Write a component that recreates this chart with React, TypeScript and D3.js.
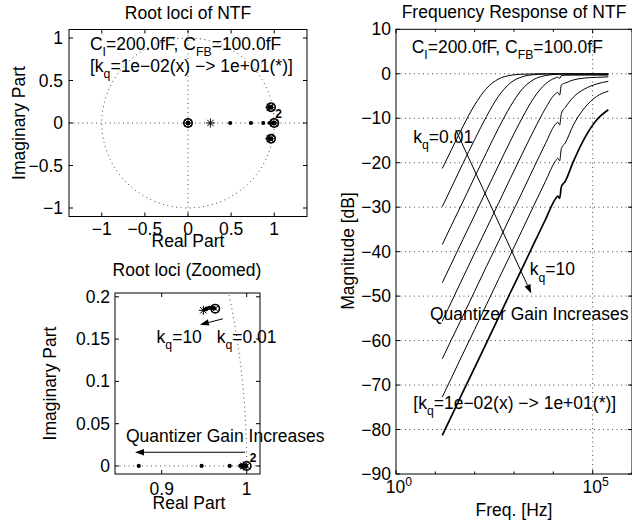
import React from 'react';
import * as d3 from 'd3';

const FONT = '"Liberation Sans", Arial, Helvetica, sans-serif';
const FS = 17.5;

// quantizer gain steps, 1e-2 -> 1e1 (8 values)
const kqValues = [0.01, 0.0268, 0.072, 0.193, 0.518, 1.39, 3.73, 10];

// NTF magnitude, frequency grid [Hz]
const freqHz = [15, 25, 50, 100, 200, 400, 800, 1600, 3200, 6300, 11000, 13000, 14500, 16000, 20000, 32000, 63000, 126000, 250000];

// magnitude [dB] per kq
const magKq1 = [-21.3, -17.3, -11.9, -7.0, -3.3, -1.2, -0.36, -0.1, -0.03, 0, 0, 0, -0.02, 0, 0, 0, 0, 0, 0];
const magKq2 = [-29.9, -25.8, -20.2, -14.8, -9.6, -5.1, -2.1, -0.69, -0.2, -0.06, -0.02, -0.02, -0.05, -0.02, -0.02, -0.03, -0.04, -0.05, -0.05];
const magKq3 = [-38.4, -34.3, -28.8, -23.2, -17.7, -12.3, -7.4, -3.5, -1.28, -0.41, -0.15, -0.11, -0.2, -0.08, -0.08, -0.1, -0.11, -0.12, -0.12];
const magKq4 = [-47.0, -42.9, -37.3, -31.8, -26.2, -20.7, -15.2, -10.0, -5.4, -2.3, -0.97, -0.75, -1.05, -0.4, -0.32, -0.3, -0.3, -0.3, -0.3];
const magKq5 = [-55.6, -51.5, -45.9, -40.3, -34.8, -29.2, -23.6, -18.1, -12.7, -7.8, -4.6, -4.2, -4.8, -2.5, -2.1, -1.4, -0.95, -0.8, -0.7];
const magKq6 = [-64.1, -60.0, -54.5, -48.9, -43.3, -37.8, -32.2, -26.7, -21.1, -15.7, -11.5, -10.9, -11.5, -8.9, -7.6, -5.3, -3.4, -2.3, -1.7];
const magKq7 = [-72.7, -68.6, -63.0, -57.5, -51.9, -46.3, -40.8, -35.2, -29.6, -24.2, -19.8, -19.0, -19.6, -16.8, -15.6, -11.6, -7.6, -5.1, -3.9];
const magKq8 = [-81.3, -77.2, -71.6, -66.1, -60.5, -54.9, -49.3, -43.8, -38.2, -32.8, -28.3, -27.5, -28.0, -25.4, -24.2, -19.8, -14.4, -10.4, -8.1];
const magCurves = [magKq1, magKq2, magKq3, magKq4, magKq5, magKq6, magKq7, magKq8];

// root locus (z-plane), one entry per kq
const movingPoleRe = [0.997, 0.9925, 0.98, 0.947, 0.873, 0.73, 0.49, 0.26];
const fixedPoleRe = [1.0, 0.9995, 0.999, 0.998, 0.997, 0.9965, 0.996, 0.996];
const cplxPoleRe = [0.963, 0.962, 0.961, 0.959, 0.956, 0.953, 0.951, 0.949];
const cplxPoleIm = [0.186, 0.1862, 0.1866, 0.187, 0.187, 0.186, 0.185, 0.184];
const zeroRe = [0, 1, 0.963, 0.963];
const zeroIm = [0, 0, 0.186, -0.186];

const rlTicks = [-1, -0.5, 0, 0.5, 1];
const zoomXTicks = [0.9, 1];
const zoomYTicks = [0, 0.05, 0.1, 0.15, 0.2];
const magTicks = [-90, -80, -70, -60, -50, -40, -30, -20, -10, 0, 10];
const decadeTicks = [1, 10, 100, 1000, 10000, 100000, 1000000];

const fmt = (v: number) => String(v).replace('-', '\u2212');

type Part = { t: string; sub?: boolean; sup?: boolean };
function Rich({ x, y, parts, size = FS, anchor = 'start' }: { x: number; y: number; parts: Part[]; size?: number; anchor?: string }) {
  let cur = 0;
  return (
    <text x={x} y={y} fontSize={size} textAnchor={anchor}>
      {parts.map((p, i) => {
        const target = p.sub ? size * 0.36 : p.sup ? -size * 0.42 : 0;
        const dy = target - cur;
        cur = target;
        return (
          <tspan key={i} dy={dy} fontSize={p.sub || p.sup ? size * 0.7 : size}>{p.t}</tspan>
        );
      })}
    </text>
  );
}

const capParts: Part[] = [{ t: 'C' }, { t: 'I', sub: true }, { t: '=200.0fF, C' }, { t: 'FB', sub: true }, { t: '=100.0fF' }];
const rangeParts: Part[] = [{ t: '[k' }, { t: 'q', sub: true }, { t: '=1e\u221202(x) \u2212> 1e+01(*)]' }];
const kqParts = (v: string): Part[] => [{ t: 'k' }, { t: 'q', sub: true }, { t: '=' + v }];

function Marker({ type, x, y }: { type: string; x: number; y: number }) {
  const s = { stroke: '#000', strokeWidth: 1, fill: 'none' };
  if (type === 'o') return <circle cx={x} cy={y} r={4.2} {...s} strokeWidth={1.6} />;
  if (type === '.') return <circle cx={x} cy={y} r={2.1} fill="#000" />;
  if (type === 'x')
    return <path d={`M${x - 3.3},${y - 3.3}L${x + 3.3},${y + 3.3}M${x - 3.3},${y + 3.3}L${x + 3.3},${y - 3.3}`} {...s} />;
  const r = 4.5, d = 3.2;
  return (
    <path
      d={`M${x - r},${y}L${x + r},${y}M${x},${y - r}L${x},${y + r}M${x - d},${y - d}L${x + d},${y + d}M${x - d},${y + d}L${x + d},${y - d}`}
      {...s}
    />
  );
}

function Arrow({ x1, y1, x2, y2 }: { x1: number; y1: number; x2: number; y2: number }) {
  const a = Math.atan2(y2 - y1, x2 - x1);
  const L = 9, W = 3.2;
  const bx = x2 - L * Math.cos(a), by = y2 - L * Math.sin(a);
  const px = -Math.sin(a) * W, py = Math.cos(a) * W;
  return (
    <g>
      <line x1={x1} y1={y1} x2={bx} y2={by} stroke="#000" strokeWidth={1} />
      <path d={`M${x2},${y2}L${bx + px},${by + py}L${bx - px},${by - py}Z`} fill="#000" />
    </g>
  );
}

const markerType = (i: number) => (i === 0 ? 'x' : i === kqValues.length - 1 ? '*' : '.');
const dotted = { stroke: '#333', strokeWidth: 0.9, strokeDasharray: '1 3.5', fill: 'none' };

function Frame({ x0, x1, y0, y1 }: { x0: number; x1: number; y0: number; y1: number }) {
  return <rect x={x0} y={y1} width={x1 - x0} height={y0 - y1} fill="none" stroke="#000" strokeWidth={1} />;
}

function RootLoci() {
  const x = d3.scaleLinear().domain([-1.38, 1.38]).range([69, 307]);
  const y = d3.scaleLinear().domain([-1.1, 1.1]).range([216.5, 29.5]);
  const circle = d3.range(0, 361, 3).map((a) => [Math.cos((a * Math.PI) / 180), Math.sin((a * Math.PI) / 180)]);
  const circ = d3.line().x((d) => x(d[0])).y((d) => y(d[1]))(circle as [number, number][]);
  const tk = 4;
  return (
    <g>
      <path d={circ || ''} {...dotted} />
      <line x1={x.range()[0]} x2={x.range()[1]} y1={y(0)} y2={y(0)} {...dotted} />
      <line x1={x(0)} x2={x(0)} y1={y.range()[0]} y2={y.range()[1]} {...dotted} />
      <Frame x0={69} x1={307} y0={216.5} y1={29.5} />
      {rlTicks.map((t) => (
        <g key={'x' + t}>
          <line x1={x(t)} x2={x(t)} y1={216.5} y2={216.5 - tk} stroke="#000" />
          <line x1={x(t)} x2={x(t)} y1={29.5} y2={29.5 + tk} stroke="#000" />
          <text x={x(t)} y={235} textAnchor="middle">{fmt(t)}</text>
        </g>
      ))}
      {rlTicks.map((t) => (
        <g key={'y' + t}>
          <line x1={69} x2={69 + tk} y1={y(t)} y2={y(t)} stroke="#000" />
          <line x1={307} x2={307 - tk} y1={y(t)} y2={y(t)} stroke="#000" />
          <text x={63} y={y(t) + 6} textAnchor="end">{fmt(t)}</text>
        </g>
      ))}
      {zeroRe.map((re, i) => (
        <Marker key={'z' + i} type="o" x={x(re)} y={y(zeroIm[i])} />
      ))}
      {kqValues.map((k, i) => (
        <g key={'p' + i}>
          <Marker type={markerType(i)} x={x(0)} y={y(0)} />
          <Marker type={markerType(i)} x={x(movingPoleRe[i])} y={y(0)} />
          <Marker type={markerType(i)} x={x(fixedPoleRe[i])} y={y(0)} />
          <Marker type={markerType(i)} x={x(cplxPoleRe[i])} y={y(cplxPoleIm[i])} />
          <Marker type={markerType(i)} x={x(cplxPoleRe[i])} y={y(-cplxPoleIm[i])} />
        </g>
      ))}
      <text x={x(1) + 1} y={y(0) - 5} fontSize={12} fontWeight="bold">2</text>
      <Rich x={x(-1.137)} y={y(0.86)} parts={capParts} />
      <Rich x={x(-1.137)} y={y(0.6)} parts={rangeParts} />
      <text x={188} y={19} textAnchor="middle">Root loci of NTF</text>
      <text x={188} y={247} textAnchor="middle">Real Part</text>
      <text transform="translate(25,123) rotate(-90)" textAnchor="middle">Imaginary Part</text>
    </g>
  );
}

function RootLociZoom() {
  const x = d3.scaleLinear().domain([0.84506, 1.01565]).range([115, 260]);
  const y = d3.scaleLinear().domain([-0.0095, 0.2045]).range([474, 293]);
  const circle = d3.range(0, 20.01, 0.25).map((a) => [Math.cos((a * Math.PI) / 180), Math.sin((a * Math.PI) / 180)]);
  const circ = d3.line().x((d) => x(d[0])).y((d) => y(d[1]))(circle as [number, number][]);
  const tk = 4;
  return (
    <g>
      <defs>
        <clipPath id="zclip">
          <rect x={115} y={293} width={145} height={181} />
        </clipPath>
      </defs>
      <g clipPath="url(#zclip)">
        <path d={circ || ''} {...dotted} />
        <line x1={115} x2={260} y1={y(0)} y2={y(0)} {...dotted} />
        {zeroRe.map((re, i) => (
          <Marker key={'z' + i} type="o" x={x(re)} y={y(zeroIm[i])} />
        ))}
        {kqValues.map((k, i) => (
          <g key={'p' + i}>
            <Marker type={markerType(i)} x={x(movingPoleRe[i])} y={y(0)} />
            <Marker type={markerType(i)} x={x(fixedPoleRe[i])} y={y(0)} />
            <Marker type={markerType(i)} x={x(cplxPoleRe[i])} y={y(cplxPoleIm[i])} />
          </g>
        ))}
      </g>
      <Frame x0={115} x1={260} y0={474} y1={293} />
      {zoomXTicks.map((t) => (
        <g key={'x' + t}>
          <line x1={x(t)} x2={x(t)} y1={474} y2={474 - tk} stroke="#000" />
          <line x1={x(t)} x2={x(t)} y1={293} y2={293 + tk} stroke="#000" />
          <text x={x(t)} y={495} textAnchor="middle">{fmt(t)}</text>
        </g>
      ))}
      {zoomYTicks.map((t) => (
        <g key={'y' + t}>
          <line x1={115} x2={115 + tk} y1={y(t)} y2={y(t)} stroke="#000" />
          <line x1={260} x2={260 - tk} y1={y(t)} y2={y(t)} stroke="#000" />
          <text x={110} y={y(t) + 6} textAnchor="end">{fmt(t)}</text>
        </g>
      ))}
      <text x={x(1) + 3} y={y(0) - 4} fontSize={12} fontWeight="bold">2</text>
      <Arrow x1={x(0.972)} y1={y(0.174)} x2={x(0.945)} y2={y(0.167)} />
      <Arrow x1={x(0.998)} y1={y(0.0162)} x2={x(0.8686)} y2={y(0.0162)} />
      <Rich x={x(0.894)} y={y(0.1454)} parts={kqParts('10')} />
      <Rich x={x(0.9647)} y={y(0.1454)} parts={kqParts('0.01')} />
      <text x={x(0.858)} y={y(0.0287)}>Quantizer Gain Increases</text>
      <text x={187} y={276} textAnchor="middle">Root loci (Zoomed)</text>
      <text x={189} y={509} textAnchor="middle">Real Part</text>
      <text transform="translate(56,383.5) rotate(-90)" textAnchor="middle">Imaginary Part</text>
    </g>
  );
}

function FreqResp() {
  const X0 = 396, X1 = 632, Y0 = 474, Y1 = 29.3;
  const x = d3.scaleLog().domain([1, 1e6]).range([X0, X1]);
  const y = d3.scaleLinear().domain([-90, 10]).range([Y0, Y1]);
  const line = d3
    .line<number>()
    .x((_, i) => x(freqHz[i]))
    .y((d) => y(d))
    .curve(d3.curveMonotoneX);
  const tk = 4;
  return (
    <g>
      {magTicks.slice(1, -1).map((t) => (
        <line key={'g' + t} x1={X0} x2={X1} y1={y(t)} y2={y(t)} {...dotted} />
      ))}
      <line x1={x(1e5)} x2={x(1e5)} y1={Y0} y2={Y1} {...dotted} />
      {magCurves.map((c, i) => (
        <path key={'c' + i} d={line(c) || ''} fill="none" stroke="#000" strokeWidth={i === magCurves.length - 1 ? 1.7 : 1} />
      ))}
      <Frame x0={X0} x1={X1} y0={Y0} y1={Y1} />
      {magTicks.map((t) => (
        <g key={'y' + t}>
          <line x1={X0} x2={X0 + tk} y1={y(t)} y2={y(t)} stroke="#000" />
          <line x1={X1} x2={X1 - tk} y1={y(t)} y2={y(t)} stroke="#000" />
          <text x={391} y={y(t) + 6} textAnchor="end">{fmt(t)}</text>
        </g>
      ))}
      {decadeTicks.map((t) => {
        const major = t === 1 || t === 1e5;
        const l = major ? tk : 2.5;
        return (
          <g key={'x' + t}>
            <line x1={x(t)} x2={x(t)} y1={Y0} y2={Y0 - l} stroke="#000" />
            <line x1={x(t)} x2={x(t)} y1={Y1} y2={Y1 + l} stroke="#000" />
          </g>
        );
      })}
      {[1, 1e5].map((t) => (
        <Rich key={'l' + t} x={x(t) + 3} y={493} anchor="middle" parts={[{ t: '10' }, { t: String(Math.round(Math.log10(t))), sup: true }]} />
      ))}
      <Arrow x1={x(33)} y1={y(-12.6)} x2={x(2750)} y2={y(-49.4)} />
      <Rich x={x(2.5)} y={y(4.67)} parts={capParts} />
      <Rich x={x(2.75)} y={y(-15.6)} parts={kqParts('0.01')} />
      <Rich x={x(2500)} y={y(-45.3)} parts={kqParts('10')} />
      <text x={x(7.3)} y={y(-55.4)}>Quantizer Gain Increases</text>
      <Rich x={x(2.75)} y={y(-75.4)} parts={rangeParts} />
      <text x={514} y={18} textAnchor="middle">Frequency Response of NTF</text>
      <text x={514} y={516} textAnchor="middle">Freq. [Hz]</text>
      <text transform="translate(354,251) rotate(-90)" textAnchor="middle">Magnitude [dB]</text>
    </g>
  );
}

export default function App() {
  return (
    <svg
      width={632}
      height={524}
      viewBox="0 0 632 524"
      style={{ position: 'absolute', left: 0, top: 0, background: '#fff' }}
      fontFamily={FONT}
      fontSize={FS}
      fill="#000"
    >
      <rect width={632} height={524} fill="#fff" />
      <RootLoci />
      <RootLociZoom />
      <FreqResp />
    </svg>
  );
}
